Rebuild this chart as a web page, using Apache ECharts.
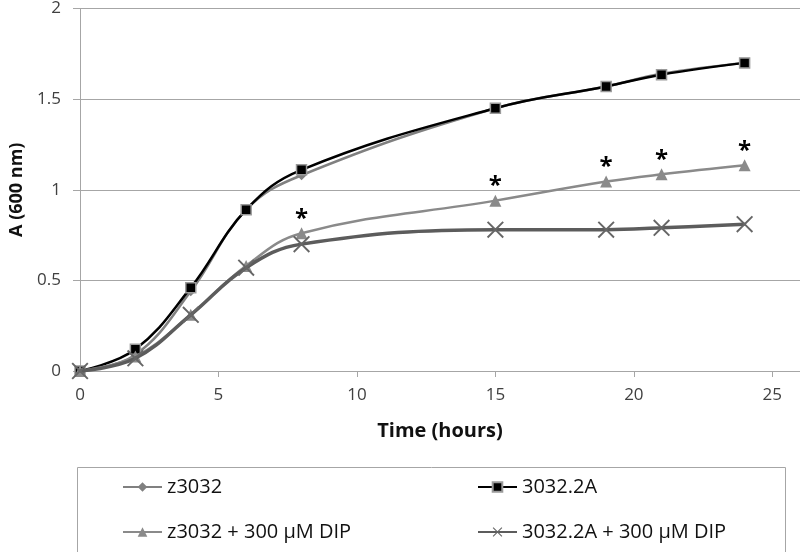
<!DOCTYPE html>
<html>
<head>
<meta charset="utf-8">
<script src="https://cdn.jsdelivr.net/npm/echarts@6/dist/echarts.min.js"></script>
<style>
html,body{margin:0;padding:0;background:#fff;}
#chart{width:800px;height:552px;}
</style>
</head>
<body>
<div id="chart"></div>
<script>
// ---- data ----
var hours = [0, 2, 4, 6, 8, 15, 19, 21, 24];
var z3032 = [0, 0.09, 0.44, 0.89, 1.08, 1.45, 1.57, 1.64, 1.70];
var s3032_2A = [0, 0.12, 0.46, 0.89, 1.11, 1.45, 1.57, 1.635, 1.70];
var z3032Dip = [0, 0.08, 0.31, 0.58, 0.76, 0.94, 1.045, 1.085, 1.135];
var s3032_2ADip = [0, 0.07, 0.31, 0.57, 0.70, 0.78, 0.78, 0.79, 0.81];
var significant = [false, false, false, false, true, true, true, true, true];
var seriesNames = ['z3032', '3032.2A', 'z3032 + 300 \u00b5M DIP', '3032.2A + 300 \u00b5M DIP'];

function pairs(ys) { return hours.map(function (h, i) { return [h, ys[i]]; }); }

var FONT = '"Open Sans", sans-serif';
var xPath = 'path://M0,8 L8,0 L50,42 L92,0 L100,8 L58,50 L100,92 L92,100 L50,58 L8,100 L0,92 L42,50 Z';

var chart = echarts.init(document.getElementById('chart'), null, {renderer: 'canvas'});
chart.setOption({
  animation: false,
  backgroundColor: '#fff',
  grid: {left: 76, right: 0, top: 7, bottom: 181, containLabel: false},
  xAxis: {
    type: 'value', min: 0, max: 26, interval: 5,
    name: 'Time (hours)', nameLocation: 'middle', nameGap: 50,
    nameTextStyle: {fontFamily: FONT, fontSize: 20, fontWeight: 'bold', color: '#111'},
    axisLine: {show: true, lineStyle: {color: '#a6a6a6', width: 1}},
    axisTick: {show: true, inside: false, length: 6, lineStyle: {color: '#a6a6a6'}},
    axisLabel: {fontFamily: FONT, fontSize: 17, color: '#404040', margin: 16, showMaxLabel: false},
    splitLine: {show: false}
  },
  yAxis: {
    type: 'value', min: 0, max: 2, interval: 0.5,
    name: 'A (600 nm)', nameLocation: 'middle', nameGap: 54, nameRotate: 90,
    nameTextStyle: {fontFamily: FONT, fontSize: 18, fontWeight: 'bold', color: '#111'},
    axisLine: {show: true, lineStyle: {color: '#a6a6a6', width: 1}},
    axisTick: {show: true, inside: false, length: 7, lineStyle: {color: '#a6a6a6'}},
    axisLabel: {fontFamily: FONT, fontSize: 17, color: '#404040', margin: 19},
    splitLine: {show: true, lineStyle: {color: '#a6a6a6', width: 1}}
  },
  legend: [
    {
      data: [seriesNames[0], seriesNames[2]], orient: 'vertical', left: 122, top: 476,
      itemWidth: 39, itemHeight: 12, itemGap: 23, padding: 0,
      textStyle: {fontFamily: FONT, fontSize: 20, color: '#111', lineHeight: 22}
    },
    {
      data: [seriesNames[1], seriesNames[3]], orient: 'vertical', left: 477, top: 476,
      itemWidth: 39, itemHeight: 12, itemGap: 23, padding: 0,
      textStyle: {fontFamily: FONT, fontSize: 20, color: '#111', lineHeight: 22}
    }
  ],
  graphic: [{
    type: 'rect', left: 75, top: 465, z: -1, silent: true,
    shape: {width: 708, height: 85},
    style: {fill: 'none', stroke: '#a6a6a6', lineWidth: 1}
  }],
  series: [
    {
      name: seriesNames[0], type: 'line', data: pairs(z3032), smooth: 0.4,
      symbol: 'diamond', symbolSize: 10,
      lineStyle: {color: '#808080', width: 2.5},
      itemStyle: {color: '#808080'}, z: 2
    },
    {
      name: seriesNames[1], type: 'line', data: pairs(s3032_2A), smooth: 0.4,
      symbol: 'rect', symbolSize: 10,
      lineStyle: {color: '#000', width: 2.5},
      itemStyle: {color: '#000', borderColor: '#9a9a9a', borderWidth: 1.5}, z: 3
    },
    {
      name: seriesNames[2], type: 'line', smooth: 0.4,
      data: hours.map(function (h, i) {
        return {value: [h, z3032Dip[i]], label: {show: significant[i]}};
      }),
      symbol: 'triangle', symbolSize: 12,
      lineStyle: {color: '#8a8a8a', width: 2.5},
      itemStyle: {color: '#8a8a8a'},
      label: {show: false, position: 'top', distance: -4, formatter: '*',
              fontFamily: FONT, fontSize: 24, fontWeight: 'bold', color: '#000'},
      z: 4
    },
    {
      name: seriesNames[3], type: 'line', data: pairs(s3032_2ADip), smooth: 0.4,
      symbol: xPath, symbolSize: 17,
      lineStyle: {color: '#5c5c5c', width: 3.5},
      itemStyle: {color: '#666'}, z: 5
    }
  ]
});
</script>
</body>
</html>
